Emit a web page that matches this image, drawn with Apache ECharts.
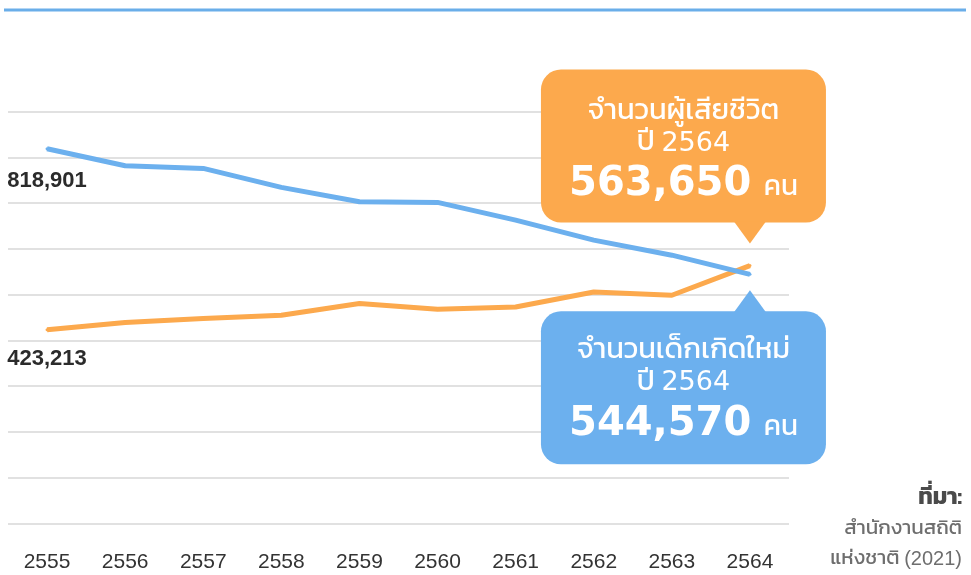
<!DOCTYPE html>
<html><head><meta charset="utf-8">
<script src="https://cdn.jsdelivr.net/npm/echarts@6/dist/echarts.min.js"></script>
<style>html,body{margin:0;padding:0;background:#fff}#c{width:971px;height:575px}</style>
</head><body><div id="c"></div>
<script>
const years = ['2555','2556','2557','2558','2559','2560','2561','2562','2563','2564'];
const births = [818901, 781800, 776100, 734600, 703100, 701800, 663000, 619300, 586400, 544570];
const deaths = [423213, 439200, 447900, 455100, 480700, 468300, 473300, 506100, 498900, 563650];
const yTicks = [0, 100000, 200000, 300000, 400000, 500000, 600000, 700000, 800000, 900000];

const BLUE = '#6cb0ee', ORANGE = '#fca94d';
const THAI = "'Kanit','Prompt','Noto Sans Thai','Noto Sans Thai Looped','Tahoma','DejaVu Sans',sans-serif";
const LAT = "'Liberation Sans',Arial,sans-serif";
const fmt = v => v.toLocaleString('en-US');

function withFirstLabel(arr, dist) {
  return arr.map((v, i) => i === 0 ? {
    value: v,
    label: { show: true, position: 'bottom', distance: dist, formatter: p => fmt(p.value),
      fontFamily: LAT, fontWeight: 'bold', fontSize: 22, color: '#2b2b2b', opacity: 1 }
  } : v);
}

const chart = echarts.init(document.getElementById('c'), null, { renderer: 'canvas' });
chart.setOption({
  animation: false,
  grid: { left: 8, right: 182, top: 111.7, bottom: 51.5, containLabel: false },
  xAxis: {
    type: 'category', data: years, boundaryGap: true,
    axisLine: { show: false }, axisTick: { show: false },
    axisLabel: { margin: 28, fontSize: 21, color: '#333', fontFamily: LAT }
  },
  yAxis: {
    type: 'value', min: yTicks[0], max: yTicks[yTicks.length - 1], interval: yTicks[1] - yTicks[0],
    axisLabel: { show: false }, axisLine: { show: false }, axisTick: { show: false },
    splitLine: { show: true, lineStyle: { color: '#e1e1e1', width: 2 } }
  },
  series: [
    { name: 'births', type: 'line', data: withFirstLabel(births, 20), symbol: 'circle', symbolSize: 3, showSymbol: true, showAllSymbol: true,
      lineStyle: { color: BLUE, width: 5 }, itemStyle: { color: BLUE }, z: 3 },
    { name: 'deaths', type: 'line', data: withFirstLabel(deaths, 17), symbol: 'circle', symbolSize: 3, showSymbol: true, showAllSymbol: true,
      lineStyle: { color: ORANGE, width: 5 }, itemStyle: { color: ORANGE }, z: 2 }
  ]
});

const last = years.length - 1;
const pB = chart.convertToPixel({ seriesIndex: 0 }, [last, births[last]]);
const pD = chart.convertToPixel({ seriesIndex: 1 }, [last, deaths[last]]);

function txt(text, x, y, extra) {
  return { type: 'text', style: Object.assign({ text, x, y, align: 'center', verticalAlign: 'middle',
    textAlign: 'center', textVerticalAlign: 'middle', fill: '#fff' }, extra) };
}

function callout(color, tipX, tipY, up, lines) {
  const W = 285, H = 153, gap = 21, bx = tipX - 209;
  const by = up ? tipY - gap - H : tipY + gap;
  const baseY = up ? by + H - 1 : by + 1;
  const els = [
    { type: 'rect', shape: { x: bx, y: by, width: W, height: H, r: 20 }, style: { fill: color } },
    { type: 'polygon', shape: { points: [[tipX - 16, baseY], [tipX + 16, baseY], [tipX, tipY]] }, style: { fill: color } }
  ];
  const cx = bx + W / 2;
  const offs = up ? [43, 74, 115] : [40, 72, 113];
  els.push(txt(lines[0], cx, by + offs[0], { fontSize: 29, fontFamily: THAI }));
  els.push(txt('{t|ปี }{d|' + lines[1] + '}', cx, by + offs[1], { rich: {
    t: { fontSize: 29, fontFamily: THAI, fill: '#fff', color: '#fff' },
    d: { fontSize: 27, fontFamily: "'DejaVu Sans',sans-serif", fill: '#fff', color: '#fff' } } }));
  els.push(txt('{n|' + lines[2] + '}{u| คน}', cx, by + offs[2], { rich: {
    n: { fontSize: 40, fontWeight: 'bold', fontFamily: "'DejaVu Sans',sans-serif", fill: '#fff', color: '#fff' },
    u: { fontSize: 28, fontFamily: THAI, fill: '#fff', color: '#fff', padding: [8, 0, 0, 6] } } }));
  return els;
}

const graphics = [
  { type: 'line', shape: { x1: 4, y1: 10, x2: 966, y2: 10 }, style: { stroke: '#6aaee9', lineWidth: 3 } },
  ...callout(ORANGE, pD[0], pD[1] - 22, true, ['จำนวนผู้เสียชีวิต', years[last], fmt(deaths[last])]),
  ...callout(BLUE, pB[0], pB[1] + 16, false, ['จำนวนเด็กเกิดใหม่', years[last], fmt(births[last])]),
  txt('ที่มา:', 962, 499, { align: 'right', textAlign: 'right', fill: '#4a4a4a', fontSize: 23, fontWeight: 'bold', fontFamily: THAI }),
  txt('สำนักงานสถิติ', 962, 529, { align: 'right', textAlign: 'right', fill: '#6e6e6e', fontSize: 20.5, fontFamily: THAI }),
  txt('{t|แห่งชาติ }{d|(2021)}', 962, 559, { align: 'right', textAlign: 'right', rich: {
    t: { fontSize: 20.5, fontFamily: THAI, fill: '#6e6e6e', color: '#6e6e6e' },
    d: { fontSize: 20, fontFamily: LAT, fill: '#6e6e6e', color: '#6e6e6e' } } })
];
chart.setOption({ graphic: graphics });
</script>
</body></html>
